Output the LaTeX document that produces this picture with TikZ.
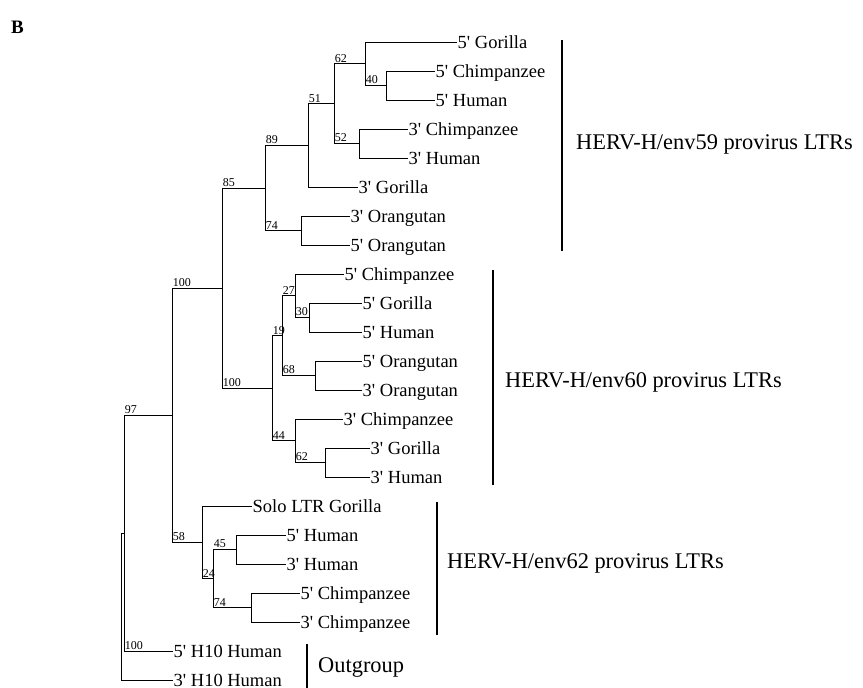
\documentclass[tikz,border=0pt]{standalone}
\usepackage{fontspec}
\setmainfont{Liberation Serif}[Ligatures=TeXOff]
\usetikzlibrary{positioning,calc}
\tikzstyle{leaf} = [anchor=west, inner sep=0.5pt, text height=12pt, text depth=0pt, font=\fontsize{18.5}{20}\selectfont]
\tikzstyle{boot} = [anchor=south west, inner sep=1pt, xshift=-0.5pt, font=\fontsize{12}{13}\selectfont]
\tikzstyle{branch} = [line width=0.8pt]
\tikzstyle{clade} = [line width=1.5pt]
\tikzstyle{group} = [anchor=base west, inner sep=0pt, font=\fontsize{22.4}{24}\selectfont]

\begin{document}
\begin{tikzpicture}[x=1pt, y=-1pt]
\useasboundingbox (0,0) rectangle (863,688);

% Panel letter
\node[anchor=base west, inner sep=0pt, font=\bfseries\fontsize{19}{20}\selectfont] (panel) at (11,33) {B};

% Leaves HERV-H/env59
\node[leaf] (e59gor5) at (457,42) {5' Gorilla};
\node[leaf] (e59chi5) at (435,71) {5' Chimpanzee};
\node[leaf] (e59hum5) at (435,100) {5' Human};
\node[leaf] (e59chi3) at (408,129) {3' Chimpanzee};
\node[leaf] (e59hum3) at (408,158) {3' Human};
\node[leaf] (e59gor3) at (358,187) {3' Gorilla};
\node[leaf] (e59ora3) at (350,216) {3' Orangutan};
\node[leaf] (e59ora5) at (350,245) {5' Orangutan};

% Leaves HERV-H/env60
\node[leaf] (e60chi5) at (344,274) {5' Chimpanzee};
\node[leaf] (e60gor5) at (362,303) {5' Gorilla};
\node[leaf] (e60hum5) at (362,332) {5' Human};
\node[leaf] (e60ora5) at (362,361) {5' Orangutan};
\node[leaf] (e60ora3) at (362,390) {3' Orangutan};
\node[leaf] (e60chi3) at (343,419) {3' Chimpanzee};
\node[leaf] (e60gor3) at (370,448) {3' Gorilla};
\node[leaf] (e60hum3) at (370,477) {3' Human};

% Leaves HERV-H/env62
\node[leaf] (e62solo) at (252,506) {Solo LTR Gorilla};
\node[leaf] (e62hum5) at (286,535) {5' Human};
\node[leaf] (e62hum3) at (286,564) {3' Human};
\node[leaf] (e62chi5) at (300,593) {5' Chimpanzee};
\node[leaf] (e62chi3) at (300,622) {3' Chimpanzee};

% Outgroup leaves
\node[leaf] (h10hum5) at (173,651) {5' H10 Human};
\node[leaf] (h10hum3) at (173,680) {3' H10 Human};

% Internal nodes
\coordinate (b40) at (386,85.5);
\coordinate (b62) at (365,63.8);
\coordinate (b52) at (359,143.5);
\coordinate (b51) at (334,103.6);
\coordinate (b89) at (308,145.3);
\coordinate (b74) at (301,230.5);
\coordinate (b85) at (265,187.9);
\coordinate (b30) at (309,317.5);
\coordinate (b27) at (295,295.8);
\coordinate (b68) at (315,375.5);
\coordinate (b19) at (282,335.6);
\coordinate (b62x) at (325,462.5);
\coordinate (b44) at (295,440.8);
\coordinate (b100x) at (272,388.2);
\coordinate (b100) at (222,288);
\coordinate (b45) at (236,549.5);
\coordinate (b74x) at (251,607.5);
\coordinate (b24) at (213,578.5);
\coordinate (b58) at (202,542.3);
\coordinate (b97) at (172,415.1);
\coordinate (b100o) at (124,533);
\coordinate (root) at (121,606.5);

% env59 branches
\draw[branch] (b40) |- (e59chi5.west);
\draw[branch] (b40) |- (e59hum5.west);
\draw[branch] (b62) |- (e59gor5.west);
\draw[branch] (b62) |- node[boot] {40} (b40);
\draw[branch] (b52) |- (e59chi3.west);
\draw[branch] (b52) |- (e59hum3.west);
\draw[branch] (b51) |- node[boot] {62} (b62);
\draw[branch] (b51) |- node[boot] {52} (b52);
\draw[branch] (b89) |- node[boot] {51} (b51);
\draw[branch] (b89) |- (e59gor3.west);
\draw[branch] (b74) |- (e59ora3.west);
\draw[branch] (b74) |- (e59ora5.west);
\draw[branch] (b85) |- node[boot] {89} (b89);
\draw[branch] (b85) |- node[boot] {74} (b74);
\draw[branch] (b100) |- node[boot] {85} (b85);

% env60 branches
\draw[branch] (b30) |- (e60gor5.west);
\draw[branch] (b30) |- (e60hum5.west);
\draw[branch] (b27) |- (e60chi5.west);
\draw[branch] (b27) |- node[boot] {30} (b30);
\draw[branch] (b68) |- (e60ora5.west);
\draw[branch] (b68) |- (e60ora3.west);
\draw[branch] (b19) |- node[boot] {27} (b27);
\draw[branch] (b19) |- node[boot] {68} (b68);
\draw[branch] (b62x) |- (e60gor3.west);
\draw[branch] (b62x) |- (e60hum3.west);
\draw[branch] (b44) |- (e60chi3.west);
\draw[branch] (b44) |- node[boot] {62} (b62x);
\draw[branch] (b100x) |- node[boot] {19} (b19);
\draw[branch] (b100x) |- node[boot] {44} (b44);
\draw[branch] (b100) |- node[boot] {100} (b100x);
\draw[branch] (b97) |- node[boot] {100} (b100);

% env62 branches
\draw[branch] (b45) |- (e62hum5.west);
\draw[branch] (b45) |- (e62hum3.west);
\draw[branch] (b74x) |- (e62chi5.west);
\draw[branch] (b74x) |- (e62chi3.west);
\draw[branch] (b24) |- node[boot] {45} (b45);
\draw[branch] (b24) |- node[boot] {74} (b74x);
\draw[branch] (b58) |- (e62solo.west);
\draw[branch] (b58) |- node[boot] {24} (b24);
\draw[branch] (b97) |- node[boot] {58} (b58);

% Root and outgroup
\draw[branch] (b100o) |- node[boot] {97} (b97);
\draw[branch] (b100o) |- node[boot] {100} (h10hum5.west);
\draw[branch] (root) |- (b100o);
\draw[branch] (root) |- (h10hum3.west);

% Clade bars
\coordinate (t59) at (562,40);  \coordinate (u59) at (562,251);
\coordinate (t60) at (493,270); \coordinate (u60) at (493,485);
\coordinate (t62) at (437,502); \coordinate (u62) at (437,635);
\coordinate (tout) at (307,644); \coordinate (uout) at (307,688);
\draw[clade] (t59) -- (u59);
\draw[clade] (t60) -- (u60);
\draw[clade] (t62) -- (u62);
\draw[clade] (tout) -- (uout);

% Clade labels
\node[group] (lab59) at (576,149) {HERV-H/env59 provirus LTRs};
\node[group] (lab60) at (505,387) {HERV-H/env60 provirus LTRs};
\node[group] (lab62) at (447,568) {HERV-H/env62 provirus LTRs};
\node[group] (labout) at (318,672) {Outgroup};

\end{tikzpicture}
\end{document}
